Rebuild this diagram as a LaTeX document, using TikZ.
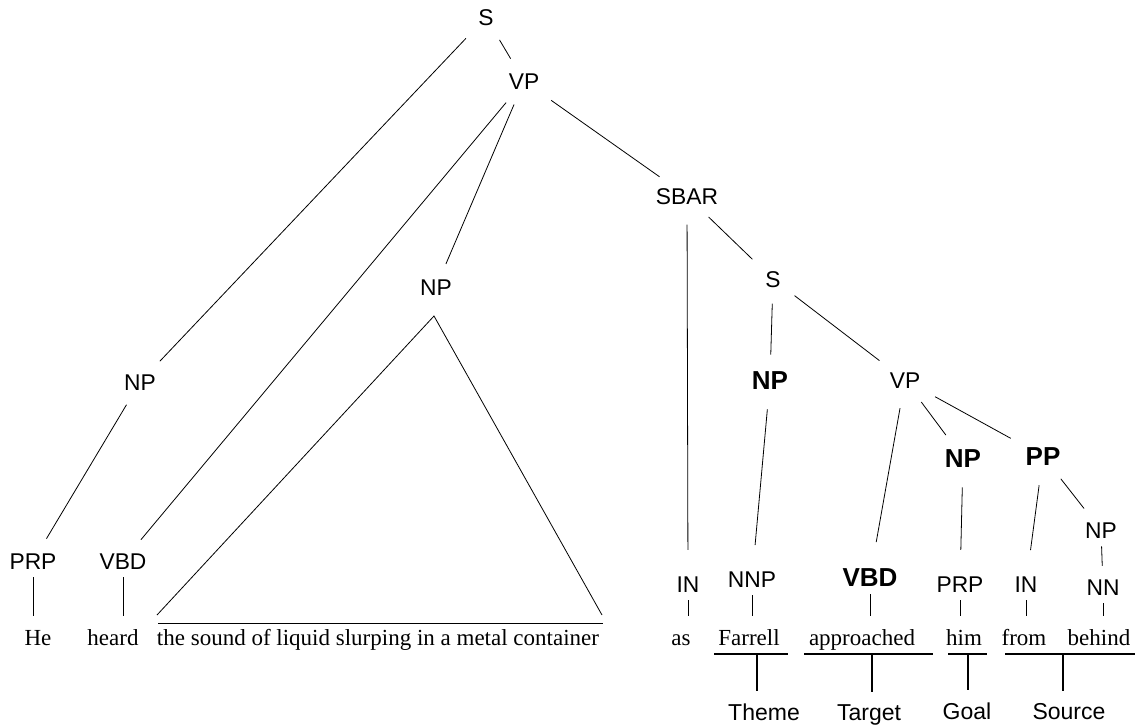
\documentclass[tikz,border=0pt]{standalone}
\usepackage{fontspec}
\setmainfont{Liberation Serif}
\newfontfamily\labelfont{Liberation Sans}
\begin{document}
\begin{tikzpicture}[x=0.5pt, y=-0.5pt]
    \tikzstyle{tag} = [anchor=base, inner sep=2pt, font=\labelfont\fontsize{11.4}{13}\selectfont]
    \tikzstyle{head} = [anchor=base, inner sep=2pt, font=\labelfont\bfseries\fontsize{13}{15}\selectfont]
    \tikzstyle{word} = [anchor=base, inner sep=2pt, text height=7.6pt, text depth=0pt, font=\fontsize{11.5}{13}\selectfont]
    \tikzstyle{role} = [anchor=base, inner sep=1pt, font=\labelfont\fontsize{11.5}{13}\selectfont]
    \tikzstyle{branch} = [shorten <=6pt, shorten >=6pt]
    \tikzstyle{drop} = [shorten <=8pt, shorten >=11pt]
    \tikzstyle{leaf} = [shorten <=2pt, shorten >=4.5pt]
    \tikzstyle{span} = [line width=1pt]
    \useasboundingbox (0,0) rectangle (1135,725);

    % Main clause
    \node [tag] (s) at (486,25) {S};
    \node [tag] (vp) at (524,89) {VP};
    \node [tag] (np) at (140,390) {NP};
    \node [tag] (npobj) at (436,295) {NP};
    \node [tag] (sbar) at (687,204) {SBAR};
    \node [tag] (prp) at (33,569) {PRP};
    \node [tag] (vbd) at (123,569) {VBD};

    % Subordinate clause
    \node [tag] (in) at (688,592) {IN};
    \node [tag] (ssub) at (773,287) {S};
    \node [head] (npsubj) at (770,389) {NP};
    \node [tag] (nnp) at (752,587) {NNP};
    \node [tag] (vpsub) at (905,388) {VP};
    \node [head] (vbdsub) at (870,586) {VBD};
    \node [head] (npgoal) at (963,467) {NP};
    \node [tag] (prpsub) at (960,592) {PRP};
    \node [head] (pp) at (1043,465) {PP};
    \node [tag] (inpp) at (1026,592) {IN};
    \node [tag] (nppp) at (1101,538) {NP};
    \node [tag] (nn) at (1103,595) {NN};

    % Words
    \node [word] (he) at (38,645) {He};
    \node [word] (heard) at (113,645) {heard};
    \node [word] (phrase) at (378,645) {the sound of liquid slurping in a metal container};
    \node [word] (as) at (681,645) {as};
    \node [word] (farrell) at (749,645) {Farrell};
    \node [word] (approached) at (862,645) {approached};
    \node [word] (him) at (964,645) {him};
    \node [word] (from) at (1024,645) {from};
    \node [word] (behind) at (1099,645) {behind};

    % Frame elements
    \node [role] (theme) at (764,720) {Theme};
    \node [role] (target) at (869,720) {Target};
    \node [role] (goal) at (967,719) {Goal};
    \node [role] (source) at (1069,719) {Source};

    % Branches
    \draw [branch] (s) -- (np);
    \draw [branch] (s) -- (vp);
    \draw [branch] (vp) -- (vbd);
    \draw [branch] (vp) -- (npobj);
    \draw [branch] (vp) -- (sbar);
    \draw [branch] (np) -- (prp);
    \draw [drop] (sbar) -- (in);
    \draw [branch] (sbar) -- (ssub);
    \draw [branch] (ssub) -- (npsubj);
    \draw [branch] (ssub) -- (vpsub);
    \draw [drop] (npsubj) -- (nnp);
    \draw [drop] (vpsub) -- (vbdsub);
    \draw [branch] (vpsub) -- (npgoal);
    \draw [branch] (vpsub) -- (pp);
    \draw [drop] (npgoal) -- (prpsub);
    \draw [drop] (pp) -- (inpp);
    \draw [branch] (pp) -- (nppp);
    \draw [leaf] (nppp) -- (nn);

    % Leaves
    \draw [leaf] (prp) -- (prp |- he.north);
    \draw [leaf] (vbd) -- (vbd |- heard.north);
    \draw [leaf] (in) -- (in |- as.north);
    \draw [leaf] (nnp) -- (nnp |- farrell.north);
    \draw [leaf] (vbdsub) -- (vbdsub |- approached.north);
    \draw [leaf] (prpsub) -- (prpsub |- him.north);
    \draw [leaf] (inpp) -- (inpp |- from.north);
    \draw [leaf] (nn) -- (nn |- behind.north);

    % Collapsed object NP
    \coordinate (apex) at (434,316);
    \coordinate (baseL) at (157,615);
    \coordinate (baseR) at (602,615);
    \coordinate (barL) at (158,623);
    \coordinate (barR) at (603,623);
    \draw (baseL) -- (apex) -- (baseR);
    \draw (barL) -- (barR);

    % Frame spans
    \coordinate (themeL) at (714,654);
    \coordinate (themeR) at (788,654);
    \coordinate (themeM) at (757,654);
    \coordinate (targetL) at (804,654);
    \coordinate (targetR) at (933,654);
    \coordinate (targetM) at (872,654);
    \coordinate (goalL) at (948,654);
    \coordinate (goalR) at (987,654);
    \coordinate (goalM) at (968,654);
    \coordinate (sourceL) at (1005,654);
    \coordinate (sourceR) at (1135,654);
    \coordinate (sourceM) at (1063,654);
    \draw [span] (themeL) -- (themeR);
    \draw [span] (targetL) -- (targetR);
    \draw [span] (goalL) -- (goalR);
    \draw [span] (sourceL) -- (sourceR);
    \draw [span, shorten >=5pt] (themeM) -- (themeM |- theme.north);
    \draw [span, shorten >=5pt] (targetM) -- (targetM |- target.north);
    \draw [span, shorten >=5pt] (goalM) -- (goalM |- goal.north);
    \draw [span, shorten >=5pt] (sourceM) -- (sourceM |- source.north);
\end{tikzpicture}
\end{document}
